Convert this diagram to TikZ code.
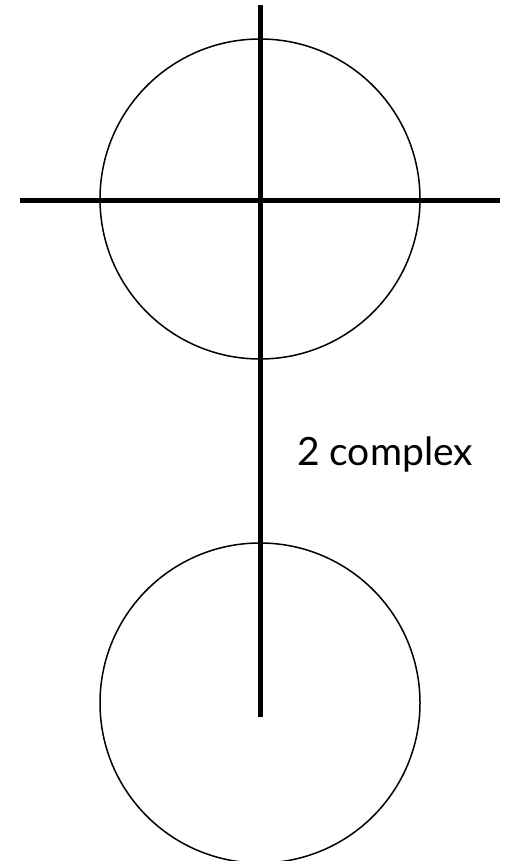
\documentclass[tikz,border=0pt]{standalone}
\usepackage{fontspec}
\setmainfont{Lato}
\begin{document}
\begin{tikzpicture}[x=1pt,y=-1pt,
  ring/.style={circle,draw,line width=1.5pt,minimum size=320pt,inner sep=0pt},
  axis/.style={line width=5pt},
  lbl/.style={font=\fontsize{39}{44}\selectfont,anchor=base,inner sep=0pt}]
\useasboundingbox (0,0) rectangle (506,861);
\node[ring] (c1) at (260,199) {};
\node[ring] (c2) at (260,703) {};
\coordinate (vt) at (260.5,5);
\coordinate (vb) at (260.5,717);
\coordinate (hl) at (20,200);
\coordinate (hr) at (500,200);
\draw[axis] (vt) -- (vb);
\draw[axis] (hl) -- (hr);
\node[lbl] (t) at (385,465) {2 complex};
\end{tikzpicture}
\end{document}
